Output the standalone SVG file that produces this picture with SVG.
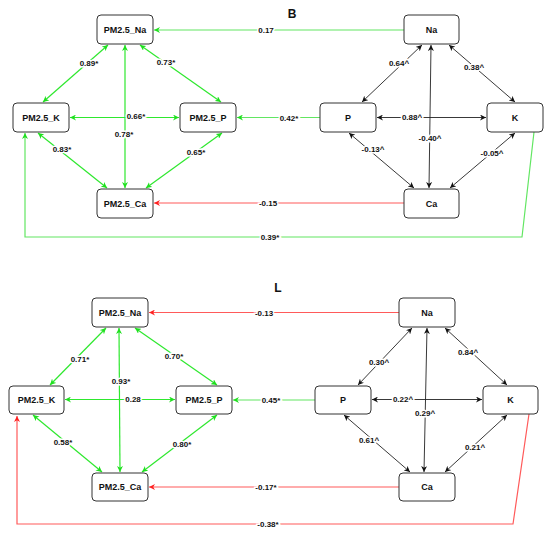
<svg xmlns="http://www.w3.org/2000/svg" width="550" height="539" viewBox="0 0 550 539">
<style>
.box{fill:#fff;stroke:#333;stroke-width:1}
.nt{font-family:"Liberation Sans",Arial,sans-serif;font-weight:bold;font-size:9px;fill:#111;text-anchor:middle;dominant-baseline:central}
.el{font-family:"Liberation Sans",Arial,sans-serif;font-weight:bold;font-size:8px;fill:#111;text-anchor:middle;dominant-baseline:central;paint-order:stroke;stroke:#fff;stroke-width:3px}
.ttl{font-family:"Liberation Sans",Arial,sans-serif;font-weight:bold;font-size:12px;fill:#111;text-anchor:middle;dominant-baseline:central}
.g{fill:none;stroke:#2ee82e;stroke-width:1.2;marker-start:url(#ag);marker-end:url(#ag)}
.go{fill:none;stroke:#62e662;stroke-width:1.2;marker-end:url(#ag)}
.r{fill:none;stroke:#ff5a5a;stroke-width:1.2;marker-end:url(#ar)}
.k{fill:none;stroke:#222;stroke-width:0.9;marker-start:url(#ak);marker-end:url(#ak)}
</style>
<defs>
<marker id="ag" viewBox="0 0 10 10" refX="10" refY="5" markerWidth="6" markerHeight="6" markerUnits="userSpaceOnUse" orient="auto-start-reverse"><path d="M0,0 L10,5 L0,10 L3,5 Z" fill="#1ee01e"/></marker>
<marker id="ar" viewBox="0 0 10 10" refX="10" refY="5" markerWidth="6" markerHeight="6" markerUnits="userSpaceOnUse" orient="auto-start-reverse"><path d="M0,0 L10,5 L0,10 L3,5 Z" fill="#ff2020"/></marker>
<marker id="ak" viewBox="0 0 10 10" refX="10" refY="5" markerWidth="6" markerHeight="6" markerUnits="userSpaceOnUse" orient="auto-start-reverse"><path d="M0,0 L10,5 L0,10 L3,5 Z" fill="#111"/></marker>
</defs>
<rect width="550" height="539" fill="#fff"/>
<text class="ttl" x="292" y="14">B</text>
<text class="ttl" x="278" y="288">L</text>
<g id="connectors">
<!-- B panel -->
<path class="go" d="M404,30 H154"/>
<path class="go" d="M320,117.5 H237"/>
<path class="r" d="M404,203 H154"/>
<path class="go" d="M534,132 L522,237 H25 V133"/>
<path class="g" d="M108,45 L43,102"/>
<path class="g" d="M140,45 L221,102"/>
<path class="g" d="M125,45 V188"/>
<path class="g" d="M70,117.5 H179"/>
<path class="g" d="M38,133 L107,188"/>
<path class="g" d="M222,133 L146,188"/>
<path class="k" d="M422,45 L362,102"/>
<path class="k" d="M449,45 L515,102"/>
<path class="k" d="M431,45 L429,188"/>
<path class="k" d="M377,117.5 H486"/>
<path class="k" d="M349,133 L414,188"/>
<path class="k" d="M515,133 L450,188"/>
<text class="el" x="266" y="30">0.17</text>
<text class="el" x="289" y="118">0.42*</text>
<text class="el" x="268" y="203">-0.15</text>
<text class="el" x="270" y="237">0.39*</text>
<text class="el" x="89" y="63">0.89*</text>
<text class="el" x="166" y="62">0.73*</text>
<text class="el" x="124" y="134">0.78*</text>
<text class="el" x="136" y="116">0.66*</text>
<text class="el" x="62" y="149">0.83*</text>
<text class="el" x="196" y="152">0.65*</text>
<text class="el" x="399" y="63">0.64^</text>
<text class="el" x="474" y="67">0.38^</text>
<text class="el" x="430" y="138">-0.40^</text>
<text class="el" x="412" y="117">0.88^</text>
<text class="el" x="373" y="149">-0.13^</text>
<text class="el" x="492" y="153">-0.05^</text>
<!-- L panel -->
<path class="r" d="M399,312.5 H149"/>
<path class="go" d="M315,400 H233"/>
<path class="r" d="M399,487 H149"/>
<path class="r" d="M529,414 L513,524 H17 V416"/>
<path class="g" d="M106,328 L50,385"/>
<path class="g" d="M135,328 L217,385"/>
<path class="g" d="M119,328 L120,472"/>
<path class="g" d="M65,399.5 H175"/>
<path class="g" d="M33,415 L102,472"/>
<path class="g" d="M217,415 L142,472"/>
<path class="k" d="M412,328 L358,385"/>
<path class="k" d="M445,328 L507,385"/>
<path class="k" d="M427,328 L424,472"/>
<path class="k" d="M372,399.5 H482"/>
<path class="k" d="M344,415 L410,472"/>
<path class="k" d="M507,415 L445,472"/>
<text class="el" x="264" y="313">-0.13</text>
<text class="el" x="271" y="400">0.45*</text>
<text class="el" x="266" y="487">-0.17*</text>
<text class="el" x="268" y="524">-0.38*</text>
<text class="el" x="80" y="359">0.71*</text>
<text class="el" x="174" y="356">0.70*</text>
<text class="el" x="121" y="381">0.93*</text>
<text class="el" x="133" y="399.5">0.28</text>
<text class="el" x="63" y="442">0.58*</text>
<text class="el" x="182" y="444">0.80*</text>
<text class="el" x="379" y="362">0.30^</text>
<text class="el" x="468" y="352">0.84^</text>
<text class="el" x="425" y="413">0.29^</text>
<text class="el" x="403" y="399.5">0.22^</text>
<text class="el" x="369" y="440">0.61^</text>
<text class="el" x="475" y="447">0.21^</text>
</g>
<g id="B_PM25_Na"><rect class="box" x="97" y="15" width="56" height="29" rx="4"/><text class="nt" x="125" y="29.5">PM2.5_Na</text></g>
<g id="B_PM25_K"><rect class="box" x="13" y="103" width="56" height="29" rx="4"/><text class="nt" x="41" y="117.5">PM2.5_K</text></g>
<g id="B_PM25_P"><rect class="box" x="180" y="103" width="56" height="29" rx="4"/><text class="nt" x="208" y="117.5">PM2.5_P</text></g>
<g id="B_PM25_Ca"><rect class="box" x="97" y="189" width="56" height="29" rx="4"/><text class="nt" x="125" y="203.5">PM2.5_Ca</text></g>
<g id="B_Na"><rect class="box" x="404" y="15" width="55" height="29" rx="4"/><text class="nt" x="431.5" y="29.5">Na</text></g>
<g id="B_P"><rect class="box" x="320" y="103" width="56" height="29" rx="4"/><text class="nt" x="348" y="117.5">P</text></g>
<g id="B_K"><rect class="box" x="487" y="103" width="56" height="29" rx="4"/><text class="nt" x="515" y="117.5">K</text></g>
<g id="B_Ca"><rect class="box" x="404" y="189" width="55" height="29" rx="4"/><text class="nt" x="431.5" y="203.5">Ca</text></g>
<g id="L_PM25_Na"><rect class="box" x="92" y="298" width="56" height="29" rx="4"/><text class="nt" x="120" y="312.5">PM2.5_Na</text></g>
<g id="L_PM25_K"><rect class="box" x="9" y="386" width="55" height="28" rx="4"/><text class="nt" x="36.5" y="400">PM2.5_K</text></g>
<g id="L_PM25_P"><rect class="box" x="176" y="386" width="56" height="28" rx="4"/><text class="nt" x="204" y="400">PM2.5_P</text></g>
<g id="L_PM25_Ca"><rect class="box" x="92" y="473" width="56" height="28" rx="4"/><text class="nt" x="120" y="487">PM2.5_Ca</text></g>
<g id="L_Na"><rect class="box" x="399" y="298" width="56" height="29" rx="4"/><text class="nt" x="427" y="312.5">Na</text></g>
<g id="L_P"><rect class="box" x="315" y="386" width="56" height="28" rx="4"/><text class="nt" x="343" y="400">P</text></g>
<g id="L_K"><rect class="box" x="483" y="386" width="55" height="28" rx="4"/><text class="nt" x="510.5" y="400">K</text></g>
<g id="L_Ca"><rect class="box" x="399" y="473" width="56" height="28" rx="4"/><text class="nt" x="427" y="487">Ca</text></g>
</svg>
